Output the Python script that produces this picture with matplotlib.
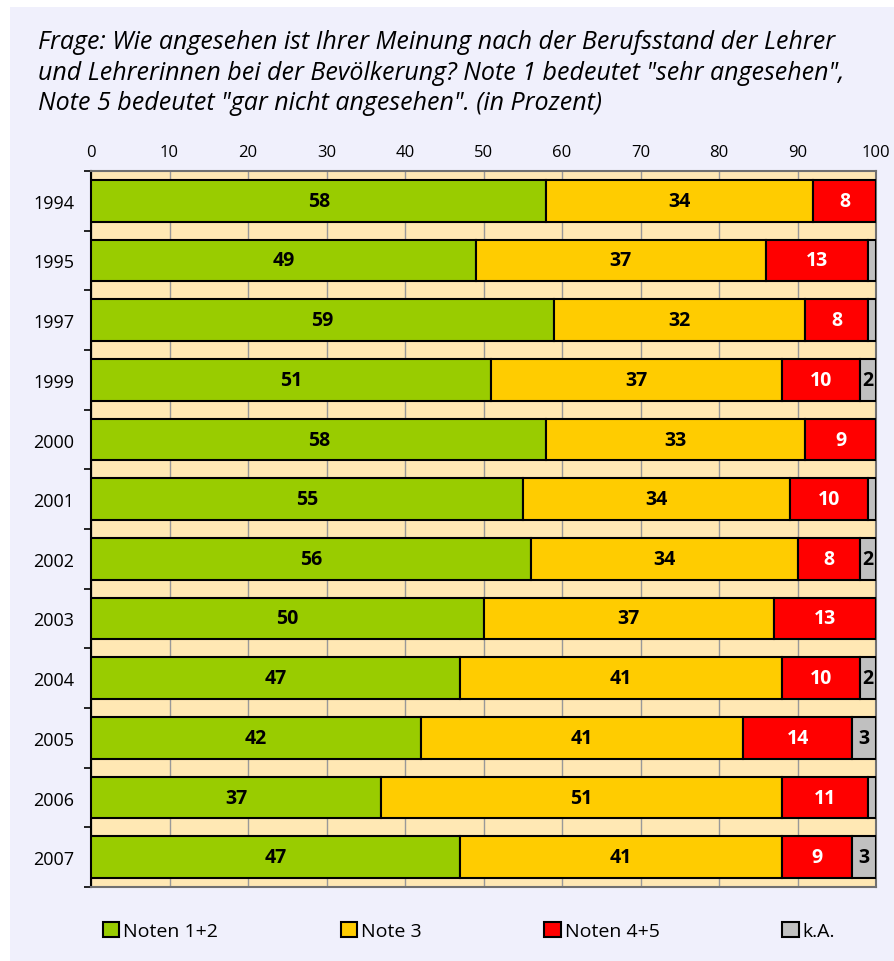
import matplotlib.pyplot as plt
from matplotlib.patches import Rectangle
import numpy as np

plt.rcParams['font.family'] = ['Open Sans', 'DejaVu Sans']

# Daten
jahre = ['1994', '1995', '1997', '1999', '2000', '2001', '2002', '2003', '2004', '2005', '2006', '2007']
noten_12 = [58, 49, 59, 51, 58, 55, 56, 50, 47, 42, 37, 47]
note_3 = [34, 37, 32, 37, 33, 34, 34, 37, 41, 41, 51, 41]
noten_45 = [8, 13, 8, 10, 9, 10, 8, 13, 10, 14, 11, 9]
ka = [0, 1, 1, 2, 0, 1, 2, 0, 2, 3, 1, 3]

serien = ['Noten 1+2', 'Note 3', 'Noten 4+5', 'k.A.']
farben = ['#99CC00', '#FFCC00', '#FF0000', '#C0C0C0']
textfarben = ['black', 'black', 'white', 'black']

fig = plt.figure(figsize=(8.95, 9.62), dpi=100)
fig.patch.set_facecolor('white')
fig.patches.append(Rectangle((10 / 895, 0), 1, 1 - 8 / 962, transform=fig.transFigure,
                             facecolor='#F0F0FC', edgecolor='none', zorder=-10))

ax = fig.add_axes([91 / 895, 1 - 888 / 962, 785 / 895, 716 / 962])
ax.set_facecolor('#FFE8B4')

y = np.arange(len(jahre))
links = np.zeros(len(jahre))
for werte, farbe, tf, name in zip([noten_12, note_3, noten_45, ka], farben, textfarben, serien):
    werte = np.array(werte)
    ax.barh(y, werte, left=links, height=0.7, color=farbe, edgecolor='black',
            linewidth=1.5, label=name, zorder=3)
    for yi, l, w in zip(y, links, werte):
        if w >= 2:
            ax.text(l + w / 2, yi, str(w), ha='center', va='center', fontsize=14,
                    fontweight='bold', color=tf, zorder=4)
    links = links + werte

ax.set_xlim(0, 100)
ax.set_ylim(len(jahre) - 0.5, -0.5)
ax.xaxis.tick_top()
ax.set_xticks(range(0, 101, 10))
ax.tick_params(axis='x', length=0, labelsize=12, pad=8)
ax.grid(axis='x', color='#999999', linewidth=1, zorder=1)

ax.set_yticks(y)
ax.set_yticklabels(jahre)
ax.set_yticks(np.arange(-0.5, len(jahre)), minor=True)
ax.tick_params(axis='y', which='major', length=0, labelsize=13, pad=12)
ax.tick_params(axis='y', which='minor', length=5, width=1.2, direction='out')

for s in ['top', 'right', 'bottom']:
    ax.spines[s].set_color('#707070')
    ax.spines[s].set_linewidth(1.5)
ax.spines['left'].set_linewidth(1.5)

fig.text(38 / 895, 1 - 30 / 962,
         'Frage: Wie angesehen ist Ihrer Meinung nach der Berufsstand der Lehrer\n'
         'und Lehrerinnen bei der Bevölkerung? Note 1 bedeutet "sehr angesehen",\n'
         'Note 5 bedeutet "gar nicht angesehen". (in Prozent)',
         fontsize=18, style='italic', va='top', ha='left', linespacing=1.3)

fig.legend(loc='center', bbox_to_anchor=(0.524, 1 - 932 / 962), ncol=4, frameon=False,
           fontsize=14, handlelength=0.85, handleheight=0.85, handletextpad=0.2,
           columnspacing=6.3)

fig.savefig('out.png', dpi=100, facecolor=fig.get_facecolor())
